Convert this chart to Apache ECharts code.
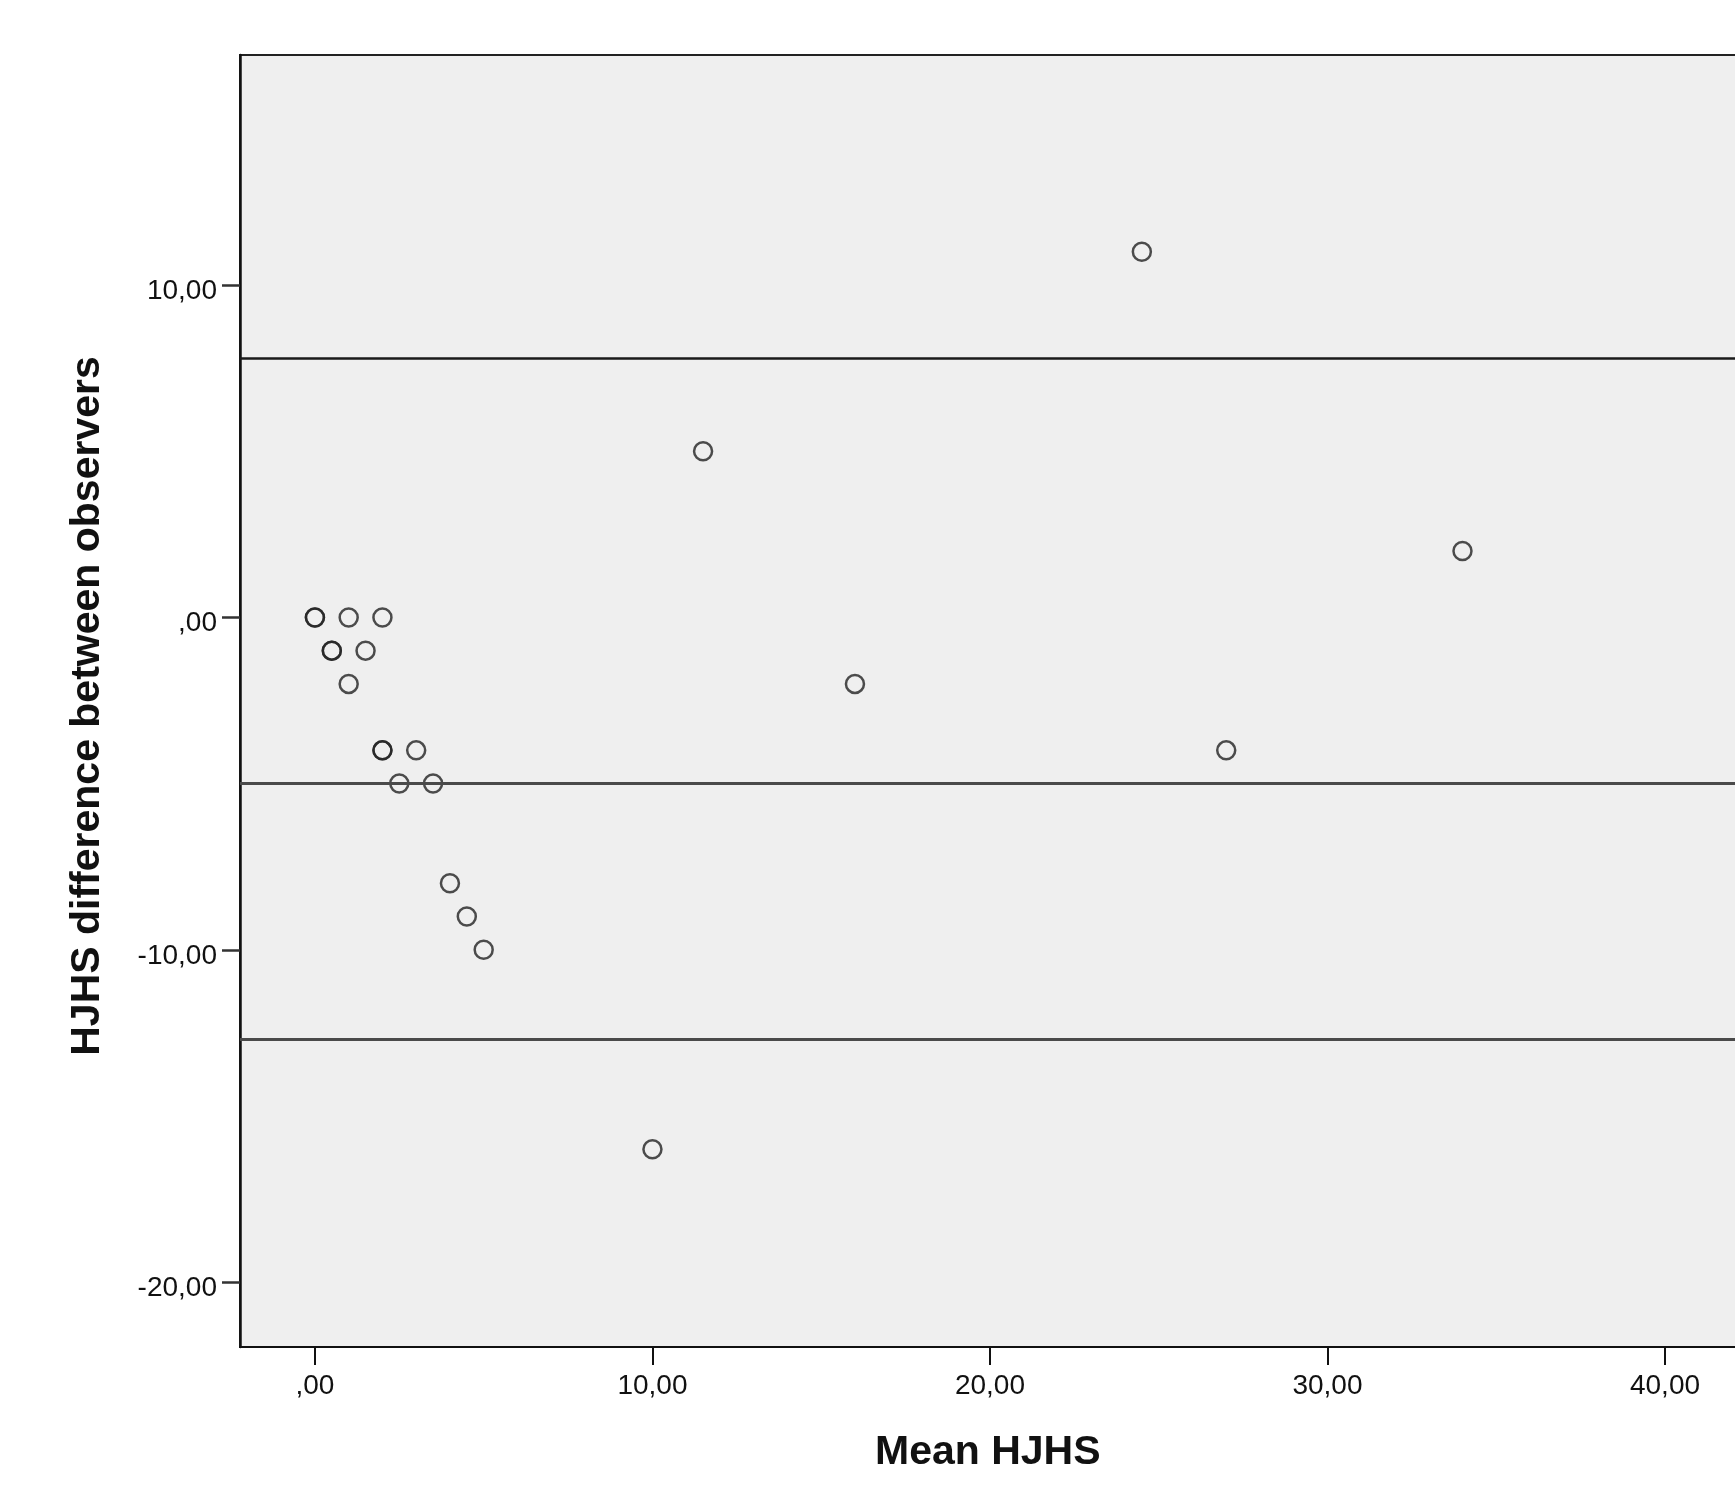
<!DOCTYPE html>
<html>
<head>
<meta charset="utf-8">
<script src="https://cdn.jsdelivr.net/npm/echarts@6/dist/echarts.min.js"></script>
<style>
  html, body { margin: 0; padding: 0; background: #fff; }
  #chart { width: 1735px; height: 1500px; }
</style>
</head>
<body>
<div id="chart"></div>
<script>
// Bland-Altman style data: mean of the two observers vs their difference
const meanHJHS = [24.5, 11.5, 34, 0, 0, 1, 2, 0.5, 0.5, 1.5, 1, 16, 2, 2, 3, 27, 2.5, 3.5, 4, 4.5, 5, 10];
const diffHJHS = [11, 5, 2, 0, 0, 0, 0, -1, -1, -1, -2, -2, -4, -4, -4, -4, -5, -5, -8, -9, -10, -16];

// horizontal reference lines
const upperLimit = 7.8;
const middleLine = -5.0;
const lowerLimit = -12.7;

const xTicks = [0, 10, 20, 30, 40];
const yTicks = [-20, -10, 0, 10];

const points = meanHJHS.map((m, i) => [m, diffHJHS[i]]);

// SPSS-like number format: 0 -> ",00", 10 -> "10,00"
function fmt(v) {
  let s = Math.abs(v).toFixed(2).replace('.', ',');
  if (s.startsWith('0,')) s = s.slice(1);
  return (v < 0 ? '-' : '') + s;
}

const FONT = '"Liberation Sans", Arial, sans-serif';

const chart = echarts.init(document.getElementById('chart'));
chart.setOption({
  animation: false,
  backgroundColor: '#ffffff',
  grid: {
    left: 240,
    top: 55,
    width: 1560,          // runs past the right edge like the source
    height: 1292,
    outerBoundsMode: 'none',
    containLabel: false,
    show: true,
    backgroundColor: '#efefef',
    borderColor: '#222',
    borderWidth: 2
  },
  xAxis: {
    type: 'value',
    min: -2.22,
    max: 44,
    axisLine: { onZero: false, lineStyle: { color: '#111', width: 2 } },
    axisTick: { show: true, length: 18, customValues: xTicks, lineStyle: { color: '#111', width: 2 } },
    axisLabel: {
      customValues: xTicks,
      formatter: fmt,
      margin: 25,
      color: '#111',
      fontSize: 28,
      fontFamily: FONT
    },
    splitLine: { show: false }
  },
  yAxis: {
    type: 'value',
    min: -21.95,
    max: 16.92,
    axisLine: { onZero: false, lineStyle: { color: '#111', width: 2.5 } },
    axisTick: { show: true, length: 18, customValues: yTicks, lineStyle: { color: '#333', width: 2.5 } },
    axisLabel: {
      customValues: yTicks,
      formatter: fmt,
      margin: 23,
      color: '#111',
      fontSize: 28,
      fontFamily: FONT,
      verticalAlign: 'top',
      lineHeight: 12
    },
    splitLine: { show: false }
  },
  graphic: [
    {
      type: 'text',
      left: 875,
      top: 1432,
      style: { text: 'Mean HJHS', font: 'bold 41px ' + FONT, fill: '#111' }
    },
    {
      type: 'text',
      x: 88,
      y: 706,
      rotation: Math.PI / 2,
      style: {
        text: 'HJHS difference between observers',
        font: 'bold 41px ' + FONT,
        fill: '#111',
        align: 'center',
        verticalAlign: 'middle'
      }
    }
  ],
  series: [{
    type: 'scatter',
    data: points,
    symbol: 'circle',
    symbolSize: 18,
    itemStyle: { color: 'rgba(0,0,0,0)', borderColor: '#222', borderWidth: 2.5 },
    markLine: {
      silent: true,
      symbol: 'none',
      label: { show: false },
      data: [
        { yAxis: upperLimit, lineStyle: { color: '#1a1a1a', width: 2.5, type: 'solid' } },
        { yAxis: middleLine, lineStyle: { color: '#4a4a4a', width: 3, type: 'solid' } },
        { yAxis: lowerLimit, lineStyle: { color: '#4a4a4a', width: 3, type: 'solid' } }
      ]
    },
    z: 3
  }]
});
</script>
</body>
</html>
